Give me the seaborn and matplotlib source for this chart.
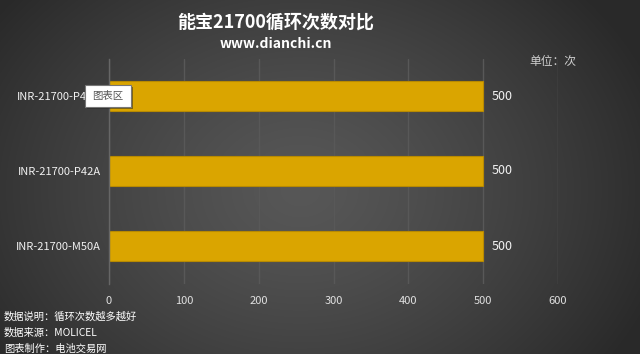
import numpy as np
import pandas as pd
import matplotlib
matplotlib.use("Agg")
import matplotlib.pyplot as plt
import seaborn as sns
from matplotlib.patches import FancyBboxPatch

categories = ["INR-21700-P45B", "INR-21700-P42A", "INR-21700-M50A"]
cycles = [500, 500, 500]
x_ticks = [0, 100, 200, 300, 400, 500, 600]
title = "能宝21700循环次数对比"
subtitle = "www.dianchi.cn"
unit_text = "单位：次"
notes = ["数据说明：循环次数越多越好", "数据来源：MOLICEL", "图表制作：电池交易网"]

sns.set_theme(style="dark")
plt.rcParams['font.family'] = ['Noto Sans CJK SC', 'DejaVu Sans']

W, H = 640, 354
fig = plt.figure(figsize=(W / 100, H / 100), dpi=100)

# background radial gradient
bg = fig.add_axes([0, 0, 1, 1], zorder=0)
yy, xx = np.mgrid[0:H, 0:W]
cx, cy = 300, 190
r = np.sqrt(((xx - cx) / 380.0) ** 2 + ((yy - cy) / 300.0) ** 2)
r = np.clip(r, 0, 1)
val = 0x57 - (0x57 - 0x29) * r ** 1.3
img = np.dstack([val, val, val]) / 255.0
bg.imshow(img, aspect='auto', extent=[0, W, H, 0])
bg.set_xlim(0, W)
bg.set_ylim(H, 0)
bg.axis('off')

df = pd.DataFrame({"model": categories, "cycles": cycles})

ax = fig.add_axes([109 / W, 1 - 283.5 / H, 449 / W, 225 / H], zorder=1)
ax.patch.set_alpha(0)
sns.barplot(data=df, y="model", x="cycles", orient="h", color="#DAA500",
            width=0.4, edgecolor="#B88A00", linewidth=0.8, saturation=1, ax=ax)

ax.set_xlim(0, 600)
ax.set_ylim(2.5, -0.5)
ax.set_xticks(x_ticks)
ax.set_xticklabels([str(t) for t in x_ticks], color="#E0E0E0", fontsize=8)
ax.set_xlabel("")
ax.set_ylabel("")
ax.tick_params(axis='y', which='major', length=0, colors="#F0F0F0", labelsize=8, pad=6)
ax.tick_params(axis='x', length=0, pad=9)
ax.set_yticks([-0.5, 0.5, 1.5, 2.5], minor=True)
ax.tick_params(axis='y', which='minor', length=4, direction='inout', color="#777777", width=0.8)

ax.grid(axis='x', color="#585858", linewidth=1)
ax.grid(axis='y', visible=False)
ax.set_axisbelow(True)
for s in ["top", "right", "bottom"]:
    ax.spines[s].set_visible(False)
ax.spines["left"].set_color("#666666")
ax.spines["left"].set_linewidth(1)

for i, v in enumerate(cycles):
    ax.text(v + 11, i, str(v), va='center', ha='left', color="#F2F2F2", fontsize=9)

fig.text(276 / W, 1 - 22 / H, title, ha='center', va='center', color='white',
         fontsize=13, fontweight='bold')
fig.text(276 / W, 1 - 44.5 / H, subtitle, ha='center', va='center', color='white',
         fontsize=10, fontweight='bold')
fig.text(553 / W, 1 - 62 / H, unit_text, ha='center', va='center', color="#CFCFCF",
         fontsize=8.5)

for k, n in enumerate(notes):
    fig.text(4 / W, 1 - (317 + 16 * k) / H, n, ha='left', va='center', color='white',
             fontsize=7.4)

# tooltip box (as shown over the first category label)
tip = FancyBboxPatch((85 / W, 1 - 107 / H), 46 / W, 22 / H,
                     boxstyle="square,pad=0", transform=fig.transFigure,
                     facecolor='white', edgecolor='#777777', linewidth=0.8, zorder=5)
shadow = FancyBboxPatch((87 / W, 1 - 109 / H), 46 / W, 22 / H,
                        boxstyle="square,pad=0", transform=fig.transFigure,
                        facecolor='#222222', edgecolor='none', alpha=0.5, zorder=4)
fig.patches.extend([shadow, tip])
fig.text(108 / W, 1 - 96 / H, "图表区", ha='center', va='center', color="#555555",
         fontsize=7.5, zorder=6)

fig.savefig("out.png", dpi=100)
